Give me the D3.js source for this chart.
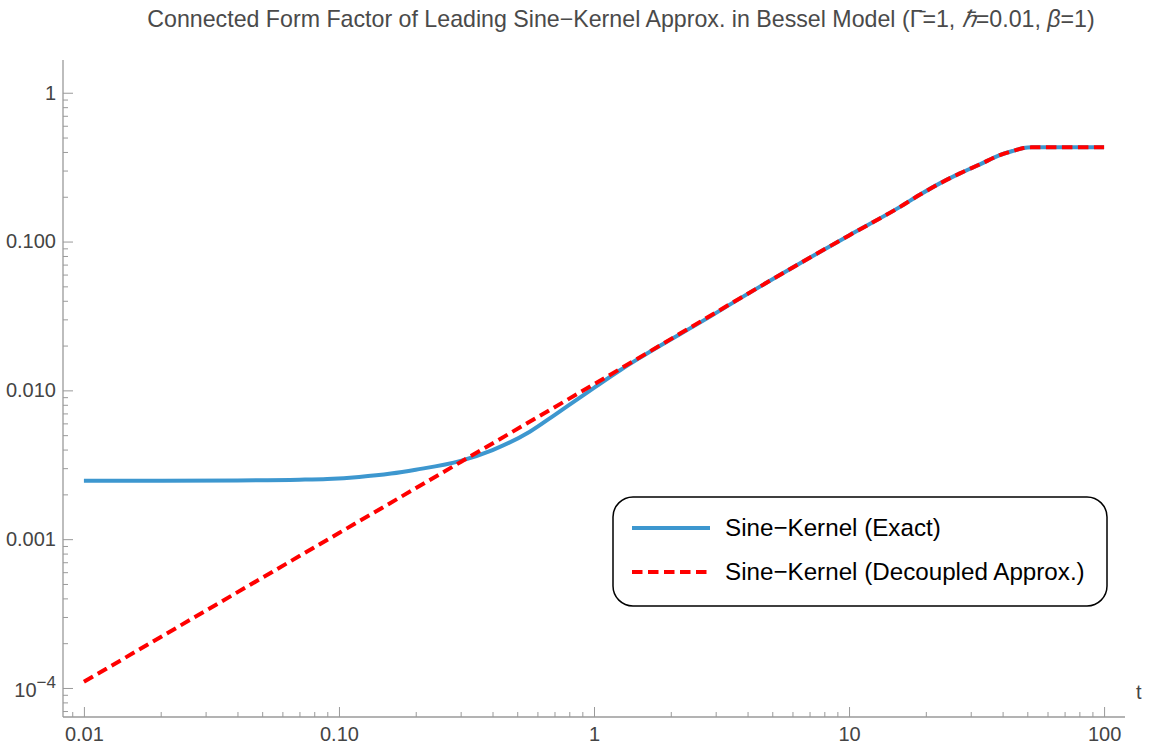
<!DOCTYPE html>
<html>
<head>
<meta charset="utf-8">
<script src="https://cdn.jsdelivr.net/npm/d3@7"></script>
<style>
  body { margin: 0; background: #fff; }
  svg text { font-family: "Liberation Sans", Arial, sans-serif; }
</style>
</head>
<body>
<div id="chart"></div>
<script>
// values (log-log)
var tExact = [0.01, 0.02, 0.04, 0.07, 0.09, 0.12, 0.16, 0.2, 0.3, 0.4, 0.56, 0.7, 0.88, 1.0, 1.27, 1.5, 2.85, 3.74, 10, 15.85, 19, 22.7, 27.2, 32.6, 39, 44, 48.3, 52, 100];
var vExact = [0.00247, 0.00247, 0.00248, 0.00251, 0.00254, 0.00262, 0.00276, 0.00293, 0.00336, 0.00397, 0.00527, 0.00682, 0.00895, 0.0104, 0.0137, 0.0164, 0.0313, 0.0415, 0.110, 0.171, 0.207, 0.246, 0.287, 0.330, 0.381, 0.407, 0.425, 0.4296, 0.4296];

var tApprox = [0.01, 0.1, 1, 10, 15.85, 19, 22.7, 27.2, 32.6, 39, 44, 48.3, 52, 100];
var vApprox = [0.00011, 0.0011, 0.011, 0.110, 0.171, 0.207, 0.246, 0.287, 0.330, 0.381, 0.407, 0.425, 0.4296, 0.4296];

var xTicks = [0.01, 0.1, 1, 10, 100];
var xTickLabels = ['0.01', '0.10', '1', '10', '100'];
var yTicks = [1, 0.1, 0.01, 0.001, 0.0001];
var yTickLabels = ['1', '0.100', '0.010', '0.001', '10^-4'];

var seriesNames = ['Sine\u2212Kernel (Exact)', 'Sine\u2212Kernel (Decoupled Approx.)'];

var width = 1158, height = 751;
var blue = '#3d97cf', red = '#ff0000', axisColor = '#9a9a9a', labelColor = '#444';

var svg = d3.select('#chart')
  .append('svg')
  .attr('width', width)
  .attr('height', height);

// scales
var x = d3.scaleLog()
  .domain([Math.pow(10, -2.082), Math.pow(10, 2.082)])
  .range([63, 1125]);

var y = d3.scaleLog()
  .domain([Math.pow(10, -4.195), Math.pow(10, 0.22)])
  .range([717, 60]);

// minor ticks (2..9 within each decade)
function minorTicks(scale) {
  var d = scale.domain(), out = [];
  for (var e = Math.floor(Math.log10(d[0])); e <= Math.ceil(Math.log10(d[1])); e++) {
    for (var k = 2; k <= 9; k++) {
      var v = k * Math.pow(10, e);
      if (v >= d[0] && v <= d[1]) out.push(v);
    }
  }
  return out;
}

// x axis
svg.append('g')
  .attr('transform', 'translate(0,717)')
  .call(d3.axisBottom(x).tickValues(minorTicks(x)).tickSizeInner(-5).tickSizeOuter(0).tickFormat(''))
  .call(g => g.select('.domain').remove())
  .selectAll('line').attr('stroke', axisColor);

svg.append('g')
  .attr('transform', 'translate(0,717)')
  .call(d3.axisBottom(x).tickValues(xTicks).tickSizeInner(-10).tickSizeOuter(0).tickPadding(10)
    .tickFormat((d, i) => xTickLabels[i]))
  .call(g => {
    g.select('.domain').attr('stroke', axisColor).attr('stroke-width', 1.3)
      .attr('d', 'M63,0H1125');
    g.selectAll('line').attr('stroke', axisColor);
    g.selectAll('text').attr('fill', labelColor).style('font-size', '20px')
      .style('font-family', '"Liberation Sans", Arial, sans-serif');
  });

// y axis
svg.append('g')
  .attr('transform', 'translate(63,0)')
  .call(d3.axisLeft(y).tickValues(minorTicks(y)).tickSizeInner(-5).tickSizeOuter(0).tickFormat(''))
  .call(g => g.select('.domain').remove())
  .selectAll('line').attr('stroke', axisColor);

svg.append('g')
  .attr('transform', 'translate(63,0)')
  .call(d3.axisLeft(y).tickValues(yTicks).tickSizeInner(-10).tickSizeOuter(0).tickPadding(7)
    .tickFormat((d, i) => yTickLabels[i]))
  .call(g => {
    g.select('.domain').attr('stroke', axisColor).attr('stroke-width', 1.3)
      .attr('d', 'M0,60V717');
    g.selectAll('line').attr('stroke', axisColor);
    g.selectAll('text').attr('fill', labelColor).style('font-size', '20px')
      .style('font-family', '"Liberation Sans", Arial, sans-serif')
      .each(function(d, i) {
        var lab = yTickLabels[i];
        if (lab.indexOf('^') < 0) return;
        var parts = lab.split('^');
        var t = d3.select(this).text('').attr('dy', '0.45em');
        t.append('tspan').text(parts[0]);
        t.append('tspan').text(parts[1].replace('-', '\u2212'))
          .attr('dy', '-0.55em').style('font-size', '17px');
      });
  });

// axis label
svg.append('text')
  .attr('x', 1136)
  .attr('y', 699)
  .attr('fill', labelColor)
  .style('font-size', '20px')
  .text('t');

// title
var title = svg.append('text')
  .attr('x', 621)
  .attr('y', 27)
  .attr('text-anchor', 'middle')
  .attr('fill', '#4a4a4a')
  .style('font-size', '23.2px');
title.append('tspan').text('Connected Form Factor of Leading Sine\u2212Kernel Approx. in Bessel Model (\u0393\u0304=1, ');
title.append('tspan').style('font-style', 'italic').text('\u210F');
title.append('tspan').text('=0.01, ');
title.append('tspan').style('font-style', 'italic').text('\u03B2');
title.append('tspan').text('=1)');

// lines
var line = d3.line()
  .x(d => x(d[0]))
  .y(d => y(d[1]))
  .curve(d3.curveMonotoneX);

svg.append('path')
  .datum(d3.zip(tExact, vExact))
  .attr('fill', 'none')
  .attr('stroke', blue)
  .attr('stroke-width', 4)
  .attr('d', line);

svg.append('path')
  .datum(d3.zip(tApprox, vApprox))
  .attr('fill', 'none')
  .attr('stroke', red)
  .attr('stroke-width', 4)
  .attr('stroke-dasharray', '10.5,5.5')
  .attr('d', line);

// legend
var legend = svg.append('g');
legend.append('rect')
  .attr('x', 613).attr('y', 497)
  .attr('width', 494).attr('height', 109)
  .attr('rx', 20).attr('ry', 20)
  .attr('fill', '#fff')
  .attr('stroke', '#000')
  .attr('stroke-width', 1.5);

var legendItems = legend.selectAll('g.item')
  .data(seriesNames)
  .enter()
  .append('g')
  .attr('class', 'item')
  .attr('transform', (d, i) => 'translate(0,' + (528 + i * 44) + ')');

legendItems.append('line')
  .attr('x1', 632).attr('x2', 710)
  .attr('stroke', (d, i) => i ? red : blue)
  .attr('stroke-width', 4)
  .attr('stroke-dasharray', (d, i) => i ? '10.5,5.5' : null);

legendItems.append('text')
  .attr('x', 725)
  .attr('dy', '0.35em')
  .attr('fill', '#000')
  .style('font-size', '24.2px')
  .text(d => d);
</script>
</body>
</html>
